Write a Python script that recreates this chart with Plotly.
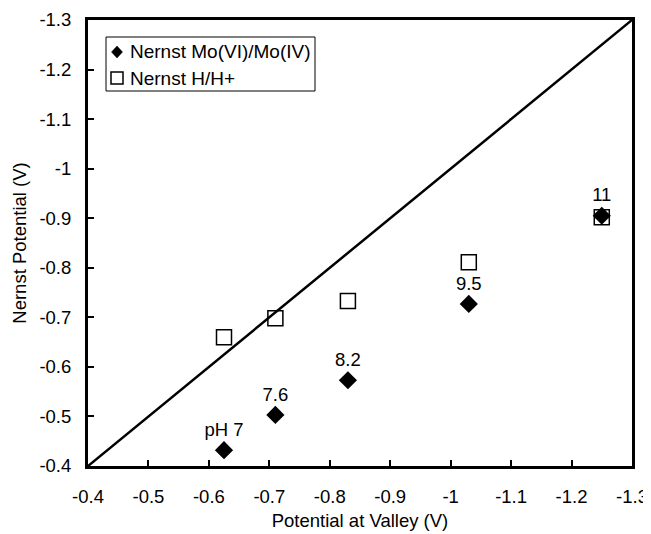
import plotly.graph_objects as go

valley = [-0.625, -0.71, -0.83, -1.03, -1.25]
nernst_mo = [-0.432, -0.503, -0.573, -0.727, -0.905]
nernst_h = [-0.66, -0.698, -0.733, -0.811, -0.902]
ph_labels = ["pH 7", "7.6", "8.2", "9.5", "11"]
series_names = ["Nernst Mo(VI)/Mo(IV)", "Nernst H/H+"]
diag = [-0.4, -1.3]
tick_vals = [-0.4, -0.5, -0.6, -0.7, -0.8, -0.9, -1.0, -1.1, -1.2, -1.3]
tick_text = ["-0.4", "-0.5", "-0.6", "-0.7", "-0.8", "-0.9", "-1", "-1.1", "-1.2", "-1.3"]

FONT = "Liberation Sans, Arial, sans-serif"
FS = 18.5

# plot area in page pixels (page body has an 8px margin)
PL, PR, PT, PB = 88, 632, 20, 466
def px(x):
    return (x - PL) / (PR - PL)
def py(y):
    return (PB - y) / (PB - PT)

fig = go.Figure()
fig.add_trace(go.Scatter(x=diag, y=diag, mode="lines", line=dict(color="black", width=2.5),
                         showlegend=False, hoverinfo="skip"))
fig.add_trace(go.Scatter(x=valley, y=nernst_h, mode="markers", name=series_names[1],
                         showlegend=False,
                         marker=dict(symbol="square-open", size=15, color="black",
                                     line=dict(width=1.5, color="black"))))
fig.add_trace(go.Scatter(x=valley, y=nernst_mo, mode="markers+text", name=series_names[0],
                         showlegend=False, text=ph_labels, textposition="top center",
                         textfont=dict(size=FS, color="black", family=FONT),
                         marker=dict(symbol="diamond", size=14, color="black")))

axis_common = dict(range=[-0.4, -1.3], tickvals=tick_vals, ticktext=tick_text,
                   showline=True, linewidth=3, linecolor="black", mirror=True,
                   ticks="inside", ticklen=6, tickwidth=2, tickcolor="black",
                   showgrid=False, zeroline=False, automargin=False,
                   ticklabeloverflow="allow",
                   tickfont=dict(size=FS, color="black", family=FONT))

fig.update_xaxes(**axis_common, ticklabelstandoff=12,
                 title=dict(text="Potential at Valley (V)",
                            font=dict(size=FS, color="black", family=FONT),
                            standoff=8))
fig.update_yaxes(**axis_common, ticklabelstandoff=10,
                 title=dict(text="Nernst Potential (V)",
                            font=dict(size=FS, color="black", family=FONT),
                            standoff=8))

# hand-drawn legend box (layout decoration)
box_l, box_r, box_t, box_b = 106, 315, 37, 91
row1, row2 = 52, 78
sym_x = 117
shapes = [
    dict(type="rect", xref="paper", yref="paper",
         x0=px(box_l), x1=px(box_r), y0=py(box_b), y1=py(box_t),
         line=dict(color="black", width=1), fillcolor="white", layer="above"),
    dict(type="path", xref="paper", yref="paper",
         path=(f"M {px(sym_x - 5.5)},{py(row1)} L {px(sym_x)},{py(row1 - 6)} "
               f"L {px(sym_x + 5.5)},{py(row1)} L {px(sym_x)},{py(row1 + 6)} Z"),
         line=dict(color="black", width=0.5), fillcolor="black", layer="above"),
    dict(type="rect", xref="paper", yref="paper",
         x0=px(sym_x - 6), x1=px(sym_x + 6), y0=py(row2 + 6), y1=py(row2 - 6),
         line=dict(color="black", width=1.5), fillcolor="white", layer="above"),
]
annotations = [
    dict(xref="paper", yref="paper", x=px(128), y=py(row1), xanchor="left", yanchor="middle",
         text=series_names[0], showarrow=False, font=dict(size=19, family=FONT, color="black")),
    dict(xref="paper", yref="paper", x=px(128), y=py(row2), xanchor="left", yanchor="middle",
         text=series_names[1], showarrow=False, font=dict(size=19, family=FONT, color="black")),
]

fig.update_layout(
    template="none",
    width=643, height=526,
    margin=dict(l=80, r=19, t=12, b=68),
    plot_bgcolor="white", paper_bgcolor="white",
    font=dict(family=FONT, size=FS, color="black"),
    showlegend=False,
    shapes=shapes,
    annotations=annotations,
)

fig.write_html("out.html")
